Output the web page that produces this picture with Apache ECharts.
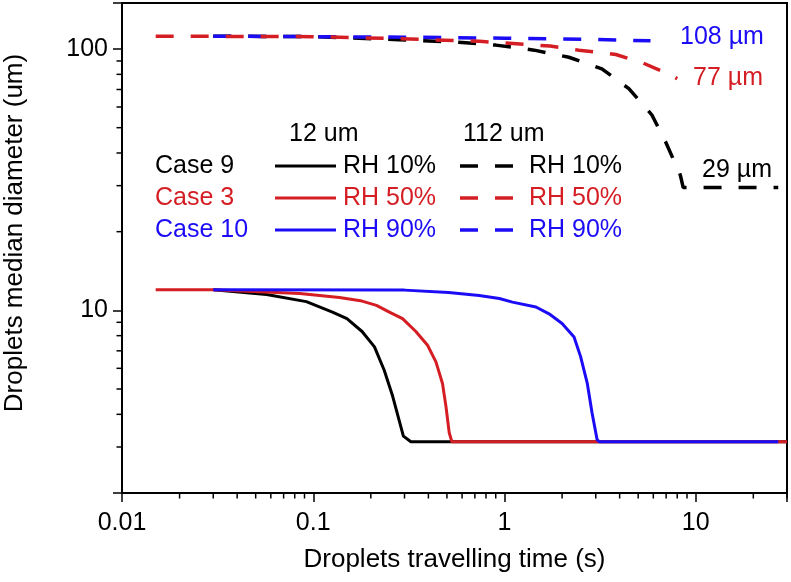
<!DOCTYPE html>
<html lang="en">
<head>
<meta charset="UTF-8">
<title>Droplets median diameter</title>
<script src="https://cdn.jsdelivr.net/npm/echarts@6/dist/echarts.min.js"></script>
<style>
    html, body { margin: 0; padding: 0; background: #fff; }
    #main { width: 791px; height: 582px; }
</style>
</head>
<body>
<div id="main"></div>
<script>
    // [time (s), median diameter (um)]
    var small_rh10 = [[0.03,12],[0.057,11.5],[0.092,10.8],[0.126,9.85],[0.15,9.3],[0.18,8.3],[0.209,7.25],[0.235,5.9],[0.26,4.7],[0.296,3.3],[0.324,3.14],[30,3.14]];
    var small_rh50 = [[0.015,12],[0.03,12],[0.085,11.6],[0.137,11.2],[0.18,10.85],[0.214,10.45],[0.25,9.85],[0.293,9.3],[0.344,8.3],[0.396,7.35],[0.438,6.35],[0.474,5.25],[0.494,4.3],[0.514,3.4],[0.531,3.14],[30,3.14]];
    var small_rh90 = [[0.03,12],[0.3,11.95],[0.51,11.7],[0.737,11.4],[0.94,11.1],[1.1,10.75],[1.46,10.3],[1.71,9.7],[2.0,8.9],[2.31,7.9],[2.5,6.65],[2.71,5.25],[2.87,4.05],[3.05,3.2],[3.13,3.14],[27,3.14]];
    var large_rh10 = [[0.03,112],[0.1,111.5],[0.28,108.5],[0.6,106],[0.9,103.5],[1.43,99],[2.17,93],[3.23,84],[4.47,70.5],[5.89,56],[6.97,44],[8.3,33],[8.6,29.5],[27,29.5]];
    var large_rh50 = [[0.015,112],[0.1,111.5],[0.28,109.5],[0.74,107],[1.73,102.6],[2.45,99],[3.82,95.3],[5.28,88.5],[7.4,79.6],[8,77]];
    var large_rh90 = [[0.03,112],[0.1,111.5],[0.3,111],[1,110],[3,108.8],[5.8,107.5]];

    var caseNames = ['Case 9', 'Case 3', 'Case 10'];
    var rhLabels = ['RH 10%', 'RH 50%', 'RH 90%'];
    var sizeLabels = ['12 um', '112 um'];
    var endLabels = ['29 \u00b5m', '77 \u00b5m', '108 \u00b5m'];
    var colors = ['#000000', '#d41e24', '#1c0cf5'];

    var FONT = '"Liberation Sans", Arial, sans-serif';

    // minor ticks 2..9 of each decade
    var xMinor = [], yMinor = [];
    [0.01, 0.1, 1, 10].forEach(function (d) {
        for (var k = 2; k <= 9; k++) { if (d * k <= 30) xMinor.push(+(d * k).toPrecision(3)); }
    });
    [1, 10].forEach(function (d) {
        for (var k = 2; k <= 9; k++) { if (d * k > 2 && d * k <= 150) yMinor.push(d * k); }
    });

    function decadeLabel(v) {
        var e = Math.log10(v);
        if (Math.abs(e - Math.round(e)) > 1e-6) return '';
        e = Math.round(e);
        return e < 0 ? v.toFixed(-e) : String(Math.round(v));
    }

    function solid(name, data, color) {
        return { name: name, type: 'line', data: data, showSymbol: false, symbol: 'none',
            lineStyle: { color: color, width: 3, join: 'round' }, z: 3, animation: false };
    }
    function dashed(name, data, color) {
        return { name: name, type: 'line', data: data, showSymbol: false, symbol: 'none',
            lineStyle: { color: color, width: 3.5, type: [18, 17] }, z: 4, animation: false };
    }

    var chart = echarts.init(document.getElementById('main'));

    // custom legend block
    var graphic = [];
    var legX = { name: 155, solid: [275, 336], rh1: 343, dash: [460, 514], rh2: 529 };
    var rowY = [166, 198, 230];
    graphic.push({ type: 'text', x: 289, y: 134, style: { text: sizeLabels[0], font: '25px ' + FONT, fill: '#000', verticalAlign: 'middle' } });
    graphic.push({ type: 'text', x: 463, y: 134, style: { text: sizeLabels[1], font: '25px ' + FONT, fill: '#000', verticalAlign: 'middle' } });
    for (var i = 0; i < 3; i++) {
        graphic.push({ type: 'text', x: legX.name, y: rowY[i], style: { text: caseNames[i], font: '25px ' + FONT, fill: colors[i], verticalAlign: 'middle' } });
        graphic.push({ type: 'line', shape: { x1: legX.solid[0], y1: rowY[i], x2: legX.solid[1], y2: rowY[i] }, style: { stroke: colors[i], lineWidth: 3 } });
        graphic.push({ type: 'text', x: legX.rh1, y: rowY[i], style: { text: rhLabels[i], font: '25px ' + FONT, fill: colors[i], verticalAlign: 'middle' } });
        graphic.push({ type: 'line', shape: { x1: legX.dash[0], y1: rowY[i], x2: legX.dash[1], y2: rowY[i] }, style: { stroke: colors[i], lineWidth: 3.5, lineDash: [18, 17] } });
        graphic.push({ type: 'text', x: legX.rh2, y: rowY[i], style: { text: rhLabels[i], font: '25px ' + FONT, fill: colors[i], verticalAlign: 'middle' } });
    }
    // end values of the 112 um curves
    graphic.push({ type: 'text', x: 702, y: 170, style: { text: endLabels[0], font: '25px ' + FONT, fill: colors[0], verticalAlign: 'middle' } });
    graphic.push({ type: 'text', x: 693, y: 78, style: { text: endLabels[1], font: '25px ' + FONT, fill: colors[1], verticalAlign: 'middle' } });
    graphic.push({ type: 'text', x: 680, y: 37, style: { text: endLabels[2], font: '25px ' + FONT, fill: colors[2], verticalAlign: 'middle' } });
    // y axis title
    graphic.push({ type: 'text', x: 15, y: 233, rotation: Math.PI / 2,
        style: { text: 'Droplets median diameter (um)', font: '26px ' + FONT, fill: '#000', align: 'center', verticalAlign: 'middle' } });

    var option = {
        animation: false,
        backgroundColor: '#fff',
        grid: { left: 122, right: 4, top: 3, bottom: 89, show: true, borderColor: '#000', borderWidth: 2, outerBoundsMode: 'none' },
        xAxis: {
            type: 'log', logBase: 10, min: 0.01, max: 30, splitNumber: 3,
            name: 'Droplets travelling time (s)', nameLocation: 'middle', nameGap: 54,
            nameTextStyle: { fontFamily: FONT, fontSize: 26, color: '#000' },
            axisLine: { lineStyle: { color: '#000', width: 2 } },
            axisTick: { inside: false, length: 9, lineStyle: { color: '#000', width: 1.5 } },
            axisLabel: { formatter: decadeLabel, fontFamily: FONT, fontSize: 25, color: '#000', margin: 18 },
            splitLine: { show: false }
        },
        yAxis: {
            type: 'log', logBase: 10, min: 2, max: 150, splitNumber: 2,
            axisLine: { lineStyle: { color: '#000', width: 2 } },
            axisTick: { inside: false, length: 9, lineStyle: { color: '#000', width: 1.5 } },
            axisLabel: { formatter: decadeLabel, fontFamily: FONT, fontSize: 25, color: '#000', margin: 14 },
            splitLine: { show: false }
        },
        graphic: graphic,
        series: [
            solid('12 um RH 10%', small_rh10, colors[0]),
            solid('12 um RH 50%', small_rh50, colors[1]),
            solid('12 um RH 90%', small_rh90, colors[2]),
            dashed('112 um RH 10%', large_rh10, colors[0]),
            dashed('112 um RH 90%', large_rh90, colors[2]),
            dashed('112 um RH 50%', large_rh50, colors[1]),
            {
                type: 'custom', silent: true, clip: false, z: 10,
                data: xMinor.map(function (v) { return [v, 10]; }),
                renderItem: function (params, api) {
                    var p = api.coord([api.value(0), api.value(1)]);
                    var b = params.coordSys.y + params.coordSys.height;
                    return { type: 'line', shape: { x1: p[0], y1: b, x2: p[0], y2: b + 5.5 }, style: { stroke: '#000', lineWidth: 1.5 } };
                }
            },
            {
                type: 'custom', silent: true, clip: false, z: 10,
                data: yMinor.map(function (v) { return [1, v]; }),
                renderItem: function (params, api) {
                    var p = api.coord([api.value(0), api.value(1)]);
                    var l = params.coordSys.x;
                    return { type: 'line', shape: { x1: l, y1: p[1], x2: l - 5.5, y2: p[1] }, style: { stroke: '#000', lineWidth: 1.5 } };
                }
            }
        ]
    };
    chart.setOption(option);
</script>
</body>
</html>
